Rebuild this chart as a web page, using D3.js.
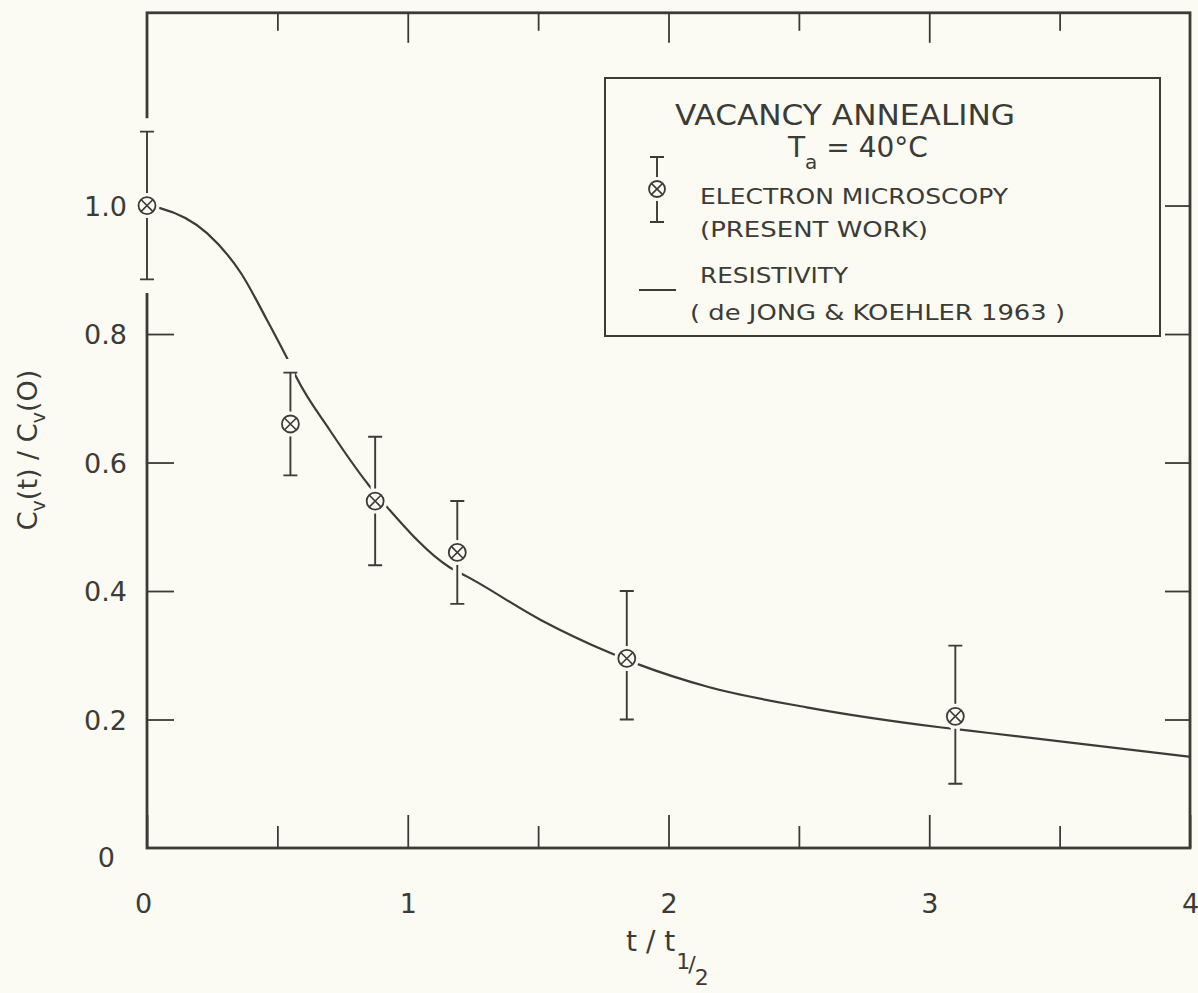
<!DOCTYPE html>
<html lang="en">
<head>
<meta charset="UTF-8">
<title>Vacancy annealing</title>
<style>
  body { margin: 0; background: #fbfaf3; }
  svg text { font-family: "DejaVu Sans", sans-serif; fill: #3b3b37; }
</style>
</head>
<body>
<svg id="chart" width="1198" height="993"></svg>
<script src="https://d3js.org/d3.v7.min.js"></script>
<script>
// tick positions and labels
const xTicks = [0, 0.5, 1, 1.5, 2, 2.5, 3, 3.5, 4];
const xLabels = [0, 1, 2, 3, 4];
const leftTicks = [0.2, 0.4, 0.6, 0.8];
const rightTicks = [0.2, 0.4, 0.6, 0.8, 1.0];
const yLabels = [0, 0.2, 0.4, 0.6, 0.8, 1.0];

// electron microscopy points (present work)
const emT = [0, 0.55, 0.875, 1.19, 1.84, 3.1];
const emC = [1.0, 0.66, 0.54, 0.46, 0.295, 0.205];
const emHi = [1.115, 0.74, 0.64, 0.54, 0.40, 0.315];
const emLo = [0.885, 0.58, 0.44, 0.38, 0.20, 0.10];

// resistivity curve (de Jong & Koehler 1963)
const resT = [0, 0.05, 0.23, 0.36, 0.46, 0.55, 0.575, 0.70, 0.85, 0.92, 1.16, 1.23, 1.51, 1.78, 1.89, 2.15, 2.53, 3.04, 3.23, 4.0];
const resC = [1.0, 0.996, 0.957, 0.895, 0.822, 0.752, 0.731, 0.651, 0.565, 0.531, 0.437, 0.422, 0.355, 0.303, 0.285, 0.251, 0.219, 0.188, 0.179, 0.142];

const ink = "#3b3b37";
const paper = "#fbfaf3";

const svg = d3.select("#chart");
svg.append("rect").attr("width", 1198).attr("height", 993).attr("fill", paper);

const x = d3.scaleLinear().domain([0, 4]).range([147, 1190]);
const y = d3.scaleLinear().domain([0, 1.3]).range([848, 12.8]);

// frame
svg.append("rect")
    .attr("x", x(0)).attr("y", y(1.3))
    .attr("width", x(4) - x(0)).attr("height", y(0) - y(1.3))
    .attr("fill", "none").attr("stroke", ink).attr("stroke-width", 2.8);

function styleTicks(g) {
    g.select(".domain").remove();
    g.selectAll(".tick line").attr("stroke", ink).attr("stroke-width", 1.8);
}

// inward ticks, longer at whole numbers
svg.append("g").attr("transform", "translate(0," + y(0) + ")")
    .call(d3.axisTop(x).tickValues(xTicks).tickFormat(""))
    .call(styleTicks)
    .selectAll(".tick line").attr("y2", d => d % 1 === 0 ? -33 : -22);

svg.append("g").attr("transform", "translate(0," + y(1.3) + ")")
    .call(d3.axisBottom(x).tickValues(xTicks.filter(d => d > 0 && d < 4)).tickFormat(""))
    .call(styleTicks)
    .selectAll(".tick line").attr("y2", d => d % 1 === 0 ? 30 : 18);

svg.append("g").attr("transform", "translate(" + x(0) + ",0)")
    .call(d3.axisRight(y).tickValues(leftTicks).tickSize(27).tickFormat(""))
    .call(styleTicks);

svg.append("g").attr("transform", "translate(" + x(4) + ",0)")
    .call(d3.axisLeft(y).tickValues(rightTicks).tickSize(25).tickFormat(""))
    .call(styleTicks);

// tick labels
const xl = svg.append("g").attr("transform", "translate(0," + y(0) + ")")
    .call(d3.axisBottom(x).tickValues(xLabels).tickSize(0).tickPadding(46).tickFormat(d3.format("d")));
xl.select(".domain").remove();
xl.selectAll("text").attr("font-size", 27).attr("font-family", null).attr("fill", ink)
    .attr("dx", d => d === 0 ? -4 : 0);

const yl = svg.append("g").attr("transform", "translate(" + x(0) + ",0)")
    .call(d3.axisLeft(y).tickValues(yLabels).tickSize(0).tickPadding(20)
        .tickFormat(d => d === 0 ? "0" : d3.format(".1f")(d)));
yl.select(".domain").remove();
yl.selectAll("text").attr("font-size", 27).attr("font-family", null).attr("fill", ink)
    .attr("x", d => d === 0 ? -32 : -20)
    .attr("dy", d => d === 0 ? "0.7em" : "0.36em");

// axis titles
svg.append("text")
    .attr("transform", "translate(37,450) rotate(-90)")
    .attr("text-anchor", "middle")
    .attr("font-size", 27)
    .call(t => {
        t.append("tspan").text("C");
        t.append("tspan").attr("font-size", 19).attr("dy", 8).text("v");
        t.append("tspan").attr("dy", -8).text("(t) / C");
        t.append("tspan").attr("font-size", 19).attr("dy", 8).text("v");
        t.append("tspan").attr("dy", -8).text("(O)");
    });

svg.append("text")
    .attr("x", 626).attr("y", 951)
    .attr("font-size", 28)
    .call(t => {
        t.append("tspan").text("t / t");
        t.append("tspan").attr("font-size", 22).attr("dx", 1).attr("dy", 18).text("1");
        t.append("tspan").attr("font-size", 22).attr("dx", -2).attr("dy", 3).text("/");
        t.append("tspan").attr("font-size", 22).attr("dx", -1).attr("dy", 13).text("2");
    });

// resistivity curve
const line = d3.line().x(d => x(d[0])).y(d => y(d[1])).curve(d3.curveMonotoneX);
svg.append("path")
    .datum(resT.map((t, i) => [t, resC[i]]))
    .attr("d", line)
    .attr("fill", "none").attr("stroke", ink).attr("stroke-width", 2.2);

// error bars and markers, drawn over a paper-coloured halo
const cap = 7;
function barPath(px, top, bot) {
    return "M" + (px - cap) + "," + top + "H" + (px + cap) +
        "M" + px + "," + top + "V" + bot +
        "M" + (px - cap) + "," + bot + "H" + (px + cap);
}
function marker(g, px, py, r) {
    g.append("circle").attr("cx", px).attr("cy", py).attr("r", r + 4).attr("fill", paper);
    g.append("circle").attr("cx", px).attr("cy", py).attr("r", r)
        .attr("fill", paper).attr("stroke", ink).attr("stroke-width", 1.8);
    const k = r * 0.68;
    g.append("path")
        .attr("d", "M" + (px - k) + "," + (py - k) + "L" + (px + k) + "," + (py + k) +
            "M" + (px + k) + "," + (py - k) + "L" + (px - k) + "," + (py + k))
        .attr("stroke", ink).attr("stroke-width", 1.6);
}

const pts = svg.append("g");
emT.forEach((t, i) => {
    const px = x(t);
    pts.append("path").attr("d", barPath(px, y(emHi[i]) - 9, y(emLo[i]) + 9))
        .attr("stroke", paper).attr("stroke-width", 9).attr("fill", "none");
});
emT.forEach((t, i) => {
    const px = x(t);
    pts.append("path").attr("d", barPath(px, y(emHi[i]), y(emLo[i])))
        .attr("stroke", ink).attr("stroke-width", 1.9).attr("fill", "none");
    marker(pts, px, y(emC[i]), 8.5);
});

// legend
const lg = svg.append("g");
lg.append("rect").attr("x", 605).attr("y", 78).attr("width", 555).attr("height", 258)
    .attr("fill", "none").attr("stroke", ink).attr("stroke-width", 2);
lg.append("text").attr("x", 675).attr("y", 125).attr("font-size", 29)
    .attr("textLength", 340).attr("lengthAdjust", "spacingAndGlyphs").text("VACANCY  ANNEALING");
lg.append("text").attr("x", 788).attr("y", 157).attr("font-size", 28)
    .call(t => {
        t.append("tspan").text("T");
        t.append("tspan").attr("font-size", 20).attr("dy", 12).text("a");
        t.append("tspan").attr("dy", -12).text(" = 40°C");
    });
lg.append("path").attr("d", barPath(657, 157, 222))
    .attr("stroke", ink).attr("stroke-width", 1.9).attr("fill", "none");
marker(lg, 657, 189, 8);
lg.append("text").attr("x", 700).attr("y", 204).attr("font-size", 22)
    .attr("textLength", 308).attr("lengthAdjust", "spacingAndGlyphs").text("ELECTRON  MICROSCOPY");
lg.append("text").attr("x", 700).attr("y", 237).attr("font-size", 22)
    .attr("textLength", 228).attr("lengthAdjust", "spacingAndGlyphs").text("(PRESENT  WORK)");
lg.append("line").attr("x1", 639).attr("x2", 676).attr("y1", 290).attr("y2", 290)
    .attr("stroke", ink).attr("stroke-width", 2);
lg.append("text").attr("x", 700).attr("y", 283).attr("font-size", 22)
    .attr("textLength", 148).attr("lengthAdjust", "spacingAndGlyphs").text("RESISTIVITY");
lg.append("text").attr("x", 690).attr("y", 320).attr("font-size", 22)
    .attr("textLength", 375).attr("lengthAdjust", "spacingAndGlyphs").text("( de JONG & KOEHLER 1963 )");
</script>
</body>
</html>
